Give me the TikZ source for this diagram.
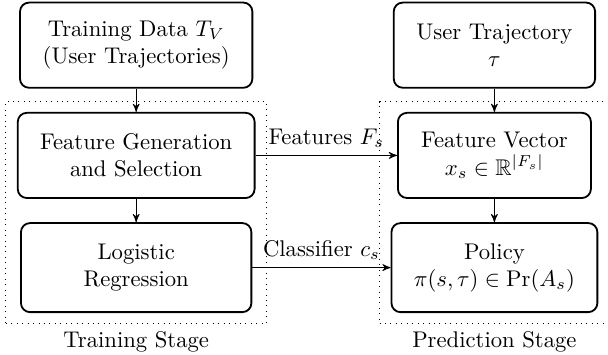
\documentclass[tikz,border=0pt]{standalone}
\usepackage{amsmath, amssymb}
\usetikzlibrary{arrows, positioning, fit}

\begin{document}
\begin{tikzpicture}[node distance=0.36cm, auto,
        block/.style={rectangle, draw, thick, rounded corners=4pt, align=center, minimum height=1.32cm},
        stage/.style={rectangle, draw, dotted, inner xsep=0.17cm, inner ysep=0.16cm},
        line/.style={draw, -stealth'}]

        \useasboundingbox (0,0) rectangle (9.42,5.49);

        % training side
        \node [block, minimum width=3.6cm] (data) at (2.11,4.79) {Training Data $T_V$\\(User Trajectories)};
        \node [block, minimum width=3.67cm, below=0.36cm of data] (gen) {Feature Generation\\and Selection};
        \node [block, minimum width=3.57cm, minimum height=1.38cm, below=0.36cm of gen] (logreg) {Logistic\\Regression};

        % prediction side
        \node [block, minimum width=3.12cm] (traj) at (7.66,4.79) {User Trajectory\\$\tau$};
        \node [block, minimum width=2.99cm, below=0.36cm of traj] (vec) {Feature Vector\\$x_s \in \mathbb{R}^{|F_s|}$};
        \node [block, minimum width=3.19cm, minimum height=1.38cm, below=0.36cm of vec] (policy) {Policy\\$\pi(s,\tau) \in \Pr(A_s)$};

        \node [stage, fit=(gen) (logreg), label=below:Training Stage] (train) {};
        \node [stage, fit=(vec) (policy), label=below:Prediction Stage] (pred) {};

        \path [line] (data) -- (gen);
        \path [line] (gen) -- (logreg);
        \path [line] (traj) -- (vec);
        \path [line] (vec) -- (policy);
        \path [line] (gen) -- node [above] {Features $F_s$} (vec);
        \path [line] (logreg) -- node [above] {Classifier $c_s$} (policy);
    \end{tikzpicture}
\end{document}
